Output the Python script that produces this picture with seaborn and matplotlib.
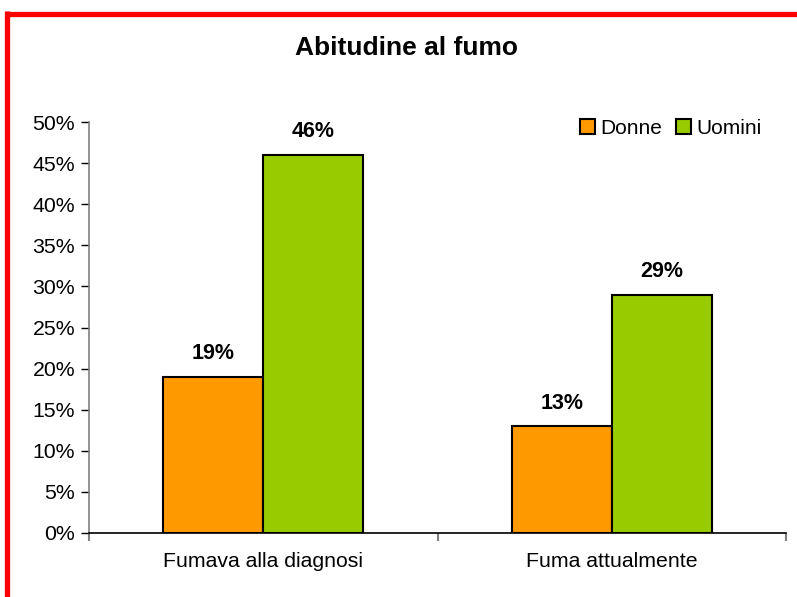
import matplotlib
matplotlib.use("Agg")
import matplotlib.pyplot as plt
import seaborn as sns
import pandas as pd
from matplotlib.lines import Line2D
from matplotlib.patches import Patch
from matplotlib.ticker import FuncFormatter, MultipleLocator, FixedLocator

categories = ["Fumava alla diagnosi", "Fuma attualmente"]
series_names = ["Donne", "Uomini"]
donne = [0.19, 0.13]
uomini = [0.46, 0.29]
colors = ["#FF9900", "#99CC00"]
title = "Abitudine al fumo"

sns.set_theme(style="white")
plt.rcParams['font.family'] = ['Liberation Sans', 'DejaVu Sans']
plt.rcParams['text.color'] = 'black'
plt.rcParams['xtick.color'] = 'black'
plt.rcParams['ytick.color'] = 'black'
plt.rcParams['axes.labelcolor'] = 'black'

rows = []
for i, c in enumerate(categories):
    rows.append({"cat": c, "sex": series_names[0], "val": donne[i]})
    rows.append({"cat": c, "sex": series_names[1], "val": uomini[i]})
df = pd.DataFrame(rows)

fig = plt.figure(figsize=(7.97, 5.97), dpi=100)
W, H = 797, 597
ax = fig.add_axes([89 / W, (H - 533) / H, (786 - 89) / W, (533 - 122) / H])

sns.barplot(data=df, x="cat", y="val", hue="sex", palette=colors, width=0.575,
            edgecolor="black", linewidth=1.5, saturation=1, ax=ax, legend=False,
            errorbar=None)

ax.set_xlim(-0.5, 1.5)
ax.set_ylim(0, 0.5)
ax.yaxis.set_major_locator(MultipleLocator(0.05))
ax.yaxis.set_major_formatter(FuncFormatter(lambda v, p: f"{round(v * 100)}%"))
ax.set_xlabel("")
ax.set_ylabel("")

for s in ["top", "right"]:
    ax.spines[s].set_visible(False)
ax.spines["left"].set_color("#808080")
ax.spines["left"].set_linewidth(1.2)
ax.spines["bottom"].set_color("black")
ax.spines["bottom"].set_linewidth(1.2)

ax.tick_params(axis="y", which="major", direction="out", length=6, width=1,
               color="black", labelcolor="black", labelsize=15.3, pad=4, left=True)
ax.tick_params(axis="x", which="major", length=0, labelsize=15.3, labelcolor="black", pad=14)
ax.xaxis.set_minor_locator(FixedLocator([-0.5, 0.5, 1.5]))
ax.tick_params(axis="x", which="minor", direction="out", length=6, width=1.5,
               color="#808080", bottom=True)

for cont in ax.containers:
    ax.bar_label(cont, labels=[f"{round(b.get_height() * 100)}%" for b in cont],
                 padding=9, fontsize=15.5, fontweight="bold", color="black")

fig.text(407 / W, 1 - 48 / H, title, ha="center", va="center",
         fontsize=19, fontweight="bold", color="black")

handles = [Patch(facecolor=colors[i], edgecolor="black", linewidth=1.5, label=series_names[i])
           for i in range(2)]
fig.legend(handles=handles, loc="center left", bbox_to_anchor=(580 / W, 1 - 128 / H),
           ncol=2, frameon=False, fontsize=15, handlelength=0.7, handleheight=0.7,
           handletextpad=0.25, columnspacing=0.7, borderpad=0, borderaxespad=0,
           labelcolor="black")

fig.add_artist(Line2D([5 / W, 1.0], [1 - 13.5 / H, 1 - 13.5 / H], color="red",
                      linewidth=3.8, transform=fig.transFigure, solid_capstyle="butt"))
fig.add_artist(Line2D([7.5 / W, 7.5 / W], [0, 1 - 11 / H], color="red",
                      linewidth=3.8, transform=fig.transFigure, solid_capstyle="butt"))

fig.savefig("out.png", dpi=100, facecolor="white")
